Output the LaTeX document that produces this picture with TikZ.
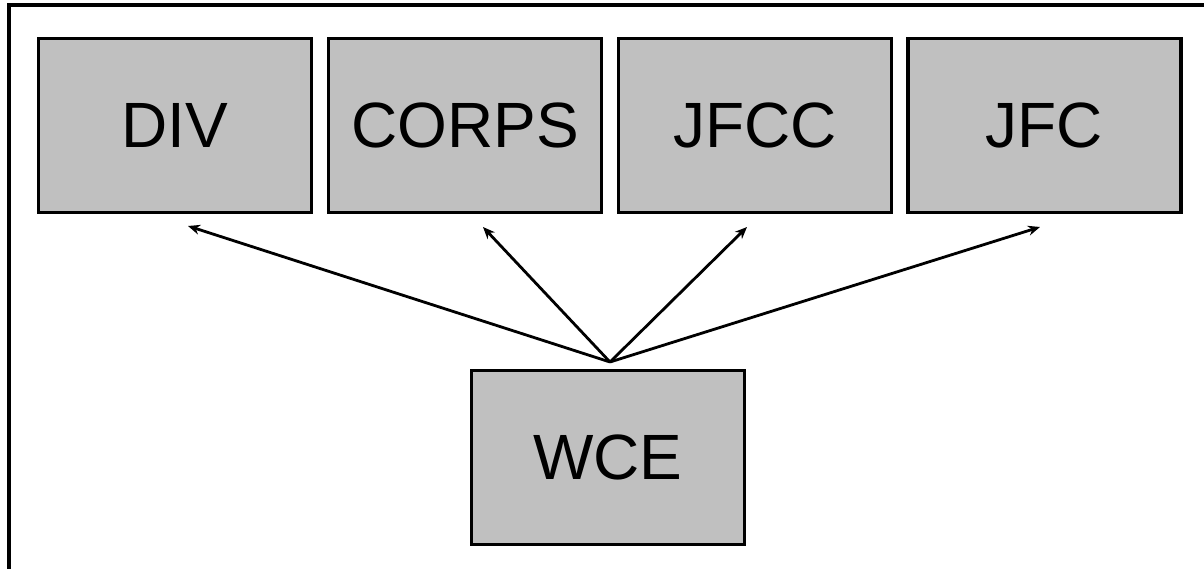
\documentclass[tikz,border=0pt]{standalone}
\usepackage{fontspec}
\setmainfont{Liberation Sans}
\usetikzlibrary{arrows.meta}
\begin{document}
\begin{tikzpicture}[x=1pt,y=-1pt,
  unit/.style={draw=black, line width=3.4pt, fill=boxgray, minimum width=273pt, minimum height=174pt, inner sep=0pt, font=\fontsize{64}{70}\selectfont},
  link/.style={line width=2.8pt, -{Stealth[length=12pt,width=10pt]}}]
\definecolor{boxgray}{HTML}{C0C0C0}
\useasboundingbox (0,0) rectangle (1204,569);
\draw[line width=3.4pt] (1204,5) -- (9,5) -- (9,569);
\node[unit] (div) at (175,125.5) {DIV};
\node[unit] (corps) at (465,125.5) {CORPS};
\node[unit] (jfcc) at (755,125.5) {JFCC};
\node[unit] (jfc) at (1044.5,125.5) {JFC};
\node[unit] (wce) at (608,457.5) {WCE};
\coordinate (src) at (610,362);
\coordinate (tdiv) at (188,226);
\coordinate (tcorps) at (483,227);
\coordinate (tjfcc) at (747,227);
\coordinate (tjfc) at (1040,227);
\draw[link] (src) -- (tdiv);
\draw[link] (src) -- (tcorps);
\draw[link] (src) -- (tjfcc);
\draw[link] (src) -- (tjfc);
\end{tikzpicture}
\end{document}
